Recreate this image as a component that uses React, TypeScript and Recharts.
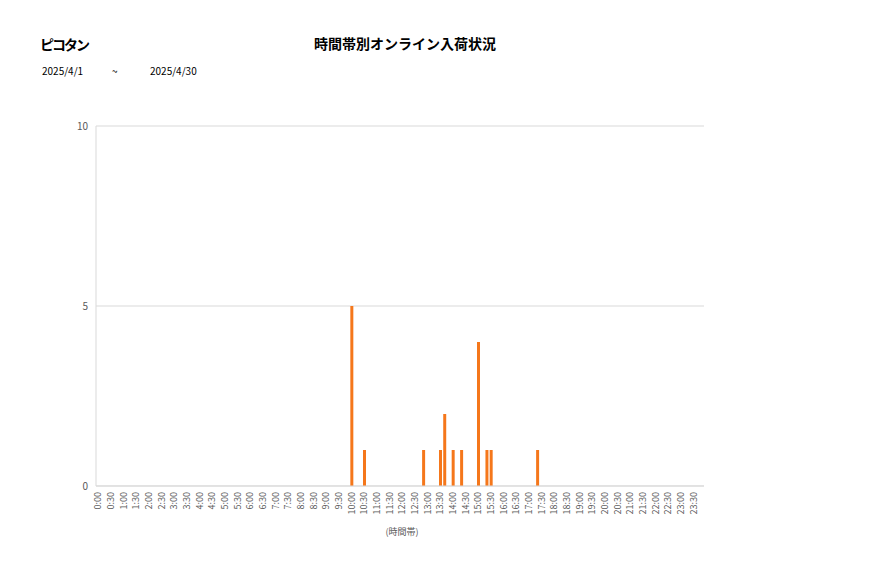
import { Bar, BarChart, CartesianGrid, XAxis, YAxis } from "recharts";

// 10分刻みの時間帯 (0:00 ～ 23:50)
const HOURS = Array.from({ length: 24 }, (_, h) => h);
const MINUTES = ["00", "10", "20", "30", "40", "50"];
const SLOTS = HOURS.flatMap((h) => MINUTES.map((m) => `${h}:${m}`));

// 入荷件数 (記載のない時間帯は 0)
const COUNTS: Record<string, number> = {
  "10:00": 5,
  "10:30": 1,
  "12:50": 1,
  "13:30": 1,
  "13:40": 2,
  "14:00": 1,
  "14:20": 1,
  "15:00": 4,
  "15:20": 1,
  "15:30": 1,
  "17:20": 1,
};

const Y_TICKS = [0, 5, 10];

const data = SLOTS.map((slot) => ({ slot, value: COUNTS[slot] ?? 0 }));

const FONT = "'Noto Sans CJK JP', 'Noto Sans', sans-serif";
const GRID = "#d9d9d9";
const TEXT = "#595959";

function SlotTick({ x, y, payload }: any) {
  return (
    <text
      x={x}
      y={y}
      transform={`rotate(-90 ${x} ${y})`}
      textAnchor="end"
      dy="0.35em"
      fontSize={9}
      fill={TEXT}
      fontFamily={FONT}
    >
      {payload.value}
    </text>
  );
}

export default function App() {
  return (
    <div style={{ position: "absolute", left: 0, top: 0, width: 877, height: 578, background: "#fff", fontFamily: FONT }}>
      <div style={{ position: "absolute", left: 40, top: 34, fontSize: 14, fontWeight: 600, letterSpacing: -2, color: "#000" }}>ピコタン</div>
      <div style={{ position: "absolute", left: 0, width: 810, top: 33, textAlign: "center", fontSize: 14, fontWeight: 700, color: "#000" }}>
        時間帯別オンライン入荷状況
      </div>
      <div style={{ position: "absolute", left: 42, top: 63, fontSize: 10, color: "#000" }}>2025/4/1</div>
      <div style={{ position: "absolute", left: 112, top: 63, fontSize: 10, color: "#000" }}>~</div>
      <div style={{ position: "absolute", left: 150, top: 63, fontSize: 10, color: "#000" }}>2025/4/30</div>
      <div style={{ position: "absolute", left: 0, width: 804, top: 525, textAlign: "center", fontSize: 9, color: TEXT }}>(時間帯)</div>

      <div style={{ position: "absolute", left: 0, top: 0 }}>
        <BarChart width={877} height={578} data={data} margin={{ top: 126, right: 173, bottom: 0, left: 0 }} barSize={3}>
          <CartesianGrid horizontal vertical={false} stroke={GRID} />
          <XAxis
            dataKey="slot"
            interval={2}
            height={92}
            tickSize={0}
            tickMargin={6}
            stroke={GRID}
            tick={<SlotTick />}
          />
          <YAxis
            domain={[0, 10]}
            ticks={Y_TICKS}
            width={96}
            tickSize={0}
            tickMargin={8}
            stroke={GRID}
            tick={{ fontSize: 10, fill: TEXT, fontFamily: FONT }}
          />
          <YAxis yAxisId="right" orientation="right" width={0} tick={false} tickLine={false} stroke={GRID} />
          <Bar dataKey="value" fill="#f5771b" isAnimationActive={false} />
        </BarChart>
      </div>
    </div>
  );
}
